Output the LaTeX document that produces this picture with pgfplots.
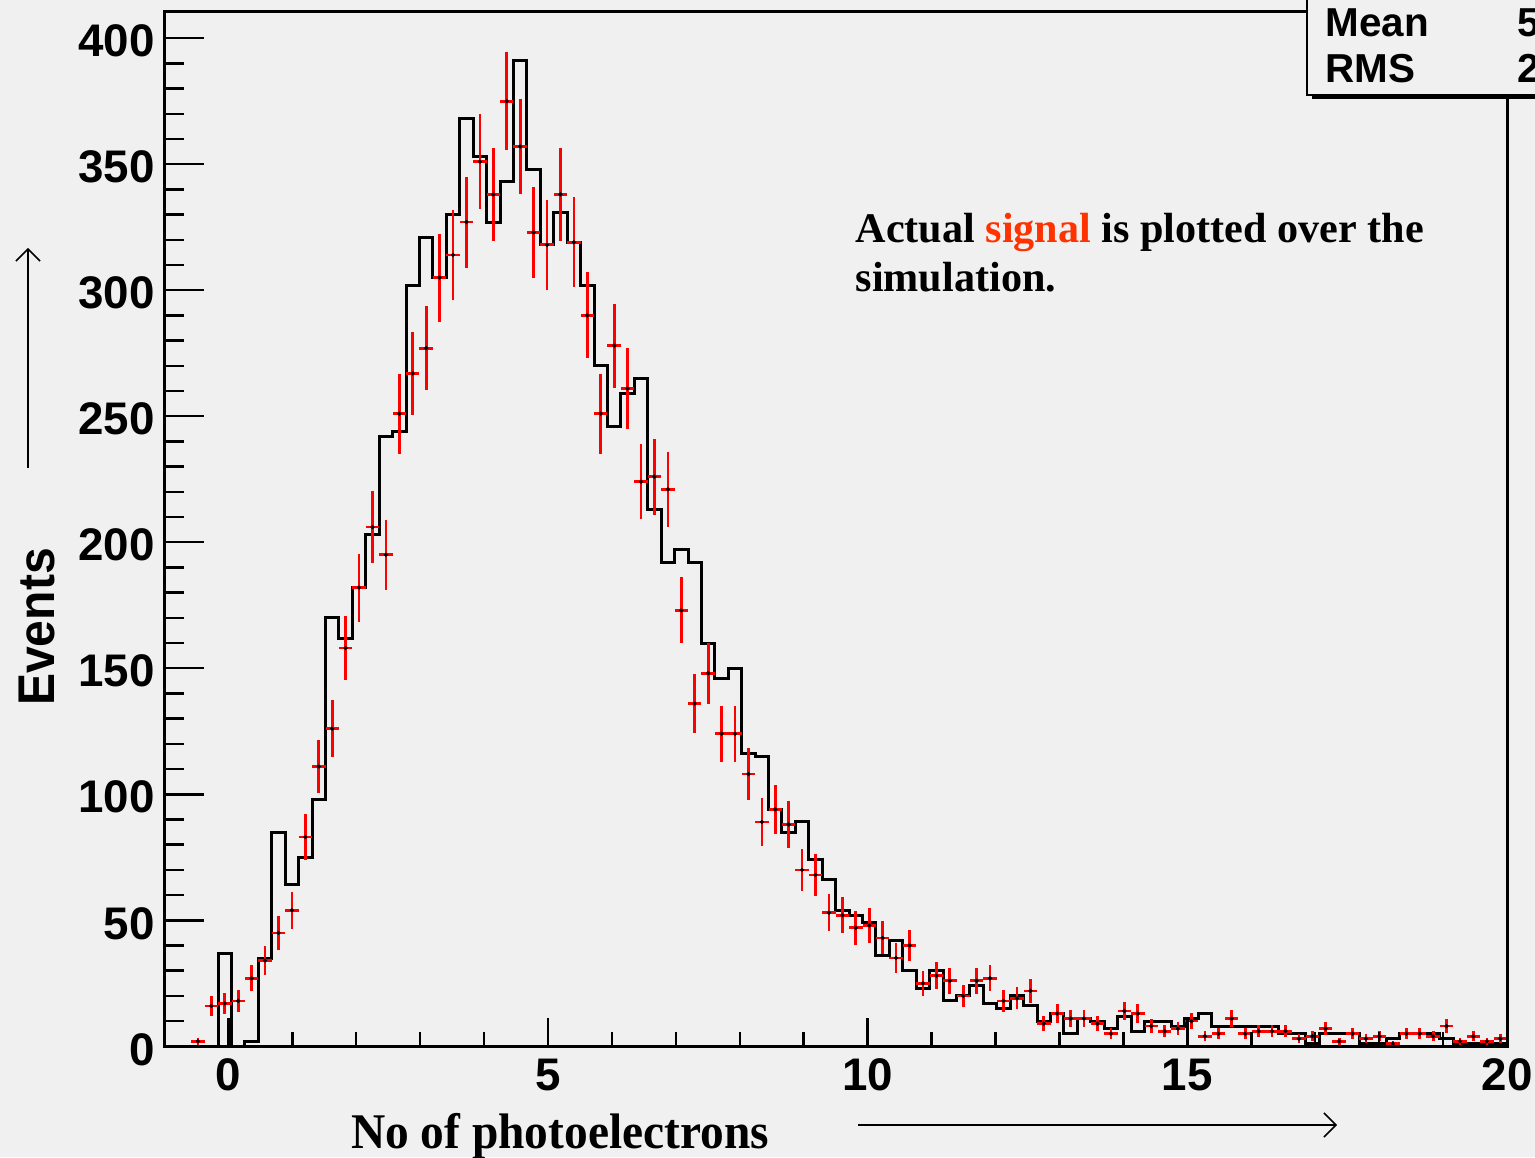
\documentclass[border=0pt]{standalone}
\usepackage{pgfplots}
\pgfplotsset{compat=1.18}
\usepackage{pgfplotstable}
\usepackage{fontspec}
\setmainfont{Liberation Serif}
\newfontfamily\helv{Liberation Sans}
\usetikzlibrary{arrows.meta}
\definecolor{bg}{RGB}{240,240,240}
\definecolor{sig}{RGB}{255,51,0}

\pgfplotstableread{
e s
-1.00 0
-0.79 0
-0.58 0
-0.37 0
-0.16 37
0.05 0
0.26 2
0.47 35
0.68 85
0.89 64
1.10 75
1.31 98
1.52 170
1.73 162
1.94 182
2.15 203
2.36 242
2.57 244
2.78 302
2.99 321
3.20 305
3.41 330
3.62 368
3.83 353
4.04 327
4.25 343
4.46 391
4.67 348
4.88 318
5.09 331
5.30 319
5.51 302
5.72 270
5.93 246
6.14 259
6.35 265
6.56 213
6.77 192
6.98 197
7.19 192
7.40 160
7.61 146
7.82 150
8.03 116
8.24 115
8.45 94
8.66 85
8.87 89
9.08 74
9.29 66
9.50 54
9.71 52
9.92 49
10.13 36
10.34 42
10.55 30
10.76 23
10.97 30
11.18 18
11.39 20
11.60 24
11.81 17
12.02 15
12.23 20
12.44 16
12.65 10
12.86 13
13.07 5
13.28 11
13.49 10
13.70 7
13.91 12
14.12 6
14.33 10
14.54 10
14.75 8
14.96 11
15.17 13
15.38 8
15.59 8
15.80 8
16.01 8
16.22 8
16.43 5
16.64 5
16.85 1
17.06 5
17.27 5
17.48 5
17.69 1
17.90 1
18.11 3
18.32 5
18.53 5
18.74 5
18.95 3
19.16 1
19.37 1
19.58 1
19.79 1
20.00 1
}\simtab

\pgfplotstableread{
c d
-0.475 2
-0.265 16
-0.055 17
0.155 18
0.365 27
0.575 34
0.785 45
0.995 54
1.205 83
1.415 111
1.625 126
1.835 158
2.045 182
2.255 206
2.465 195
2.675 251
2.885 267
3.095 277
3.305 305
3.515 314
3.725 327
3.935 351
4.145 338
4.355 375
4.565 357
4.775 323
4.985 318
5.195 338
5.405 319
5.615 290
5.825 251
6.035 278
6.245 261
6.455 224
6.665 226
6.875 221
7.085 173
7.295 136
7.505 148
7.715 124
7.925 124
8.135 108
8.345 89
8.555 94
8.765 88
8.975 70
9.185 68
9.395 53
9.605 52
9.815 47
10.025 48
10.235 43
10.445 35
10.655 40
10.865 25
11.075 28
11.285 26
11.495 20
11.705 26
11.915 27
12.125 18
12.335 19
12.545 22
12.755 9
12.965 13
13.175 11
13.385 11
13.595 9
13.805 5
14.015 14
14.225 13
14.435 8
14.645 6
14.855 7
15.065 10
15.275 4
15.485 5
15.695 11
15.905 5
16.115 6
16.325 6
16.535 6
16.745 3
16.955 4
17.165 7
17.375 2
17.585 5
17.795 3
18.005 4
18.215 1
18.425 5
18.635 5
18.845 4
19.055 8
19.265 2
19.475 4
19.685 2
19.895 3
}\dattab

\begin{document}
\begin{tikzpicture}
\useasboundingbox (-16.44mm,-11.07mm) rectangle (137.06mm,104.63mm);
\fill[bg] (-16.44mm,-11.07mm) rectangle (137.06mm,104.63mm);
\begin{axis}[
  at={(0,0)}, anchor=south west,
  scale only axis, width=134.26mm, height=103.46mm,
  xmin=-1, xmax=20, ymin=0, ymax=410.5,
  xtick=\empty,
  ytick={0,50,...,400}, minor y tick num=4,
  ytick pos=left, tick align=inside,
  major tick length=4mm, minor tick length=2mm,
  every tick/.style={black, line width=0.25mm},
  axis line style={line width=0.3mm},
  tick label style={font=\helv\bfseries\fontsize{13}{13}\selectfont},
  /pgf/number format/assume math mode=true,
  yticklabel style={inner sep=0pt, xshift=-0.9mm, yshift=-0.3mm},
]
\addplot[const plot, black, line width=0.3mm] table[x=e, y=s]{\simtab};
\addplot[only marks, mark=*, mark size=0.35pt, black,
  error bars/.cd, y dir=both, y explicit, x dir=both, x fixed=0.105,
  error mark=none, error bar style={red, line width=0.27mm}]
  table[x=c, y=d, y error expr=sqrt(\thisrow{d})]{\dattab};
\end{axis}
\begin{axis}[
  at={(0,0)}, anchor=south west,
  scale only axis, width=134.26mm, height=103.46mm,
  xmin=-1, xmax=20, ymin=0, ymax=410.5,
  axis line style={draw=none},
  ytick=\empty,
  xtick={0,5,10,15,20}, minor x tick num=4,
  xtick pos=bottom, tick align=inside,
  major tick length=2.8mm, minor tick length=1.4mm,
  every tick/.style={black, line width=0.25mm},
  tick label style={font=\helv\bfseries\fontsize{13}{13}\selectfont},
  /pgf/number format/assume math mode=true,
  xticklabel style={inner sep=0pt, yshift=-1.2mm},
]
\end{axis}
% y label and arrow
\node[rotate=90, anchor=center, inner sep=0pt, font=\helv\bfseries\fontsize{14.7}{15}\selectfont] at (-12.74mm,41.93mm) {\scalebox{0.93}[1]{Events}};
\draw[line width=0.15mm, -{Straight Barb[length=1.2mm,width=2.4mm]}] (-13.64mm,57.83mm) -- (-13.64mm,79.83mm);
% x label and arrow
\node[anchor=base, inner sep=0pt, font=\bfseries\fontsize{14.2}{15}\selectfont] at (39.56mm,-10.25mm) {\scalebox{0.95}[1]{No of photoelectrons}};
\draw[line width=0.15mm, -{Straight Barb[length=1.2mm,width=2.4mm]}] (69.36mm,-7.87mm) -- (117.26mm,-7.87mm);
% annotation
\node[anchor=base west, inner sep=0pt, font=\bfseries\fontsize{12}{14}\selectfont] at (69.06mm,80.33mm) {Actual \textcolor{sig}{signal} is plotted over the};
\node[anchor=base west, inner sep=0pt, font=\bfseries\fontsize{12}{14}\selectfont] at (69.06mm,75.43mm) {simulation.};
% stats box
\fill[black] (114.76mm,94.73mm) rectangle (140mm,106mm);
\filldraw[fill=bg, draw=black, line width=0.15mm] (114.26mm,95.13mm) rectangle (139.5mm,106mm);
\node[anchor=base west, inner sep=0pt, font=\helv\bfseries\fontsize{11.5}{12}\selectfont] at (116.06mm,100.93mm) {Mean};
\node[anchor=base west, inner sep=0pt, font=\helv\bfseries\fontsize{11.5}{12}\selectfont] at (116.06mm,96.33mm) {RMS};
\node[anchor=base west, inner sep=0pt, font=\helv\bfseries\fontsize{11.5}{12}\selectfont] at (135.2mm,100.93mm) {5};
\node[anchor=base west, inner sep=0pt, font=\helv\bfseries\fontsize{11.5}{12}\selectfont] at (135.2mm,96.33mm) {2};
\end{tikzpicture}
\end{document}
